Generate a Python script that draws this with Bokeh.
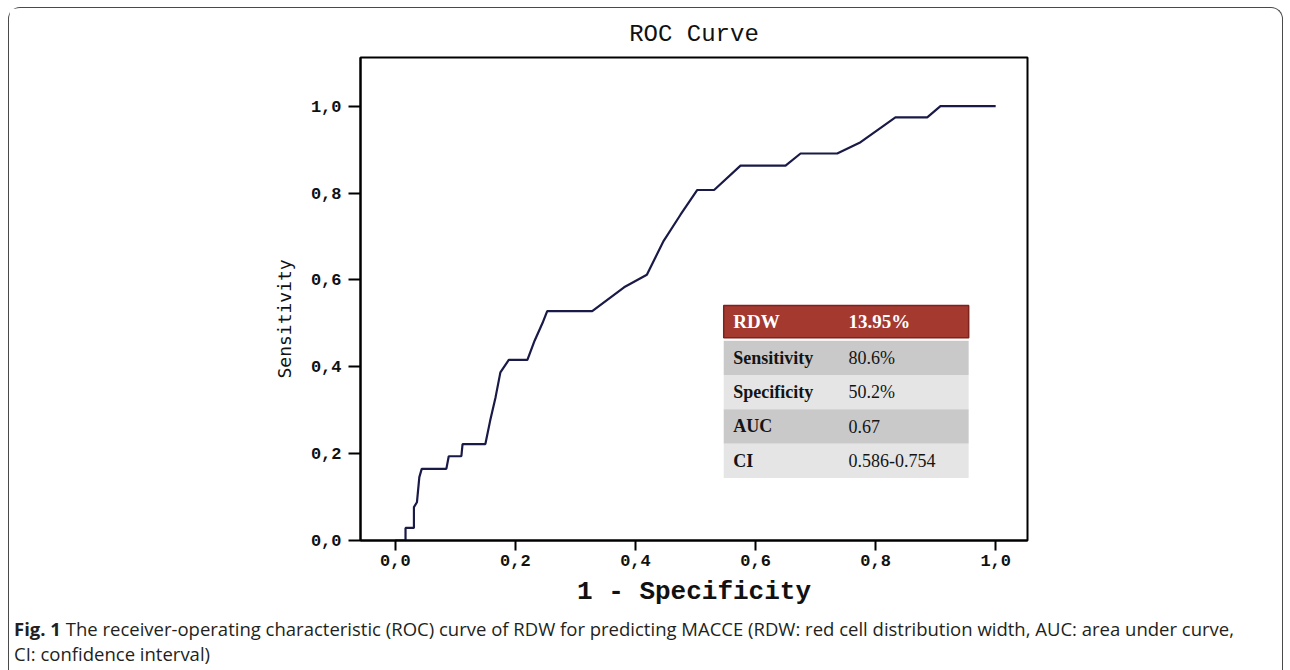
from bokeh.plotting import figure
from bokeh.models import Range1d, FixedTicker, CustomJSTickFormatter, Div, Title
from bokeh.layouts import column
from bokeh.embed import file_html
from bokeh.resources import INLINE
from bokeh.core.properties import value

# ---------------- data ----------------
fpr = [0.0, 0.017, 0.017, 0.031, 0.031, 0.036, 0.040, 0.044, 0.085, 0.089, 0.110, 0.112,
       0.150, 0.158, 0.167, 0.175, 0.189, 0.220, 0.232, 0.245, 0.253, 0.328, 0.381, 0.419,
       0.447, 0.475, 0.503, 0.531, 0.575, 0.650, 0.675, 0.736, 0.775, 0.833, 0.886, 0.908, 1.0]
tpr = [0.0, 0.0, 0.029, 0.029, 0.077, 0.088, 0.146, 0.165, 0.165, 0.194, 0.194, 0.222,
       0.222, 0.276, 0.330, 0.387, 0.416, 0.416, 0.460, 0.500, 0.528, 0.528, 0.583, 0.612,
       0.690, 0.750, 0.807, 0.807, 0.863, 0.863, 0.891, 0.891, 0.917, 0.974, 0.974, 1.0, 1.0]

tick_values = [0.0, 0.2, 0.4, 0.6, 0.8, 1.0]
tick_labels = ["0,0", "0,2", "0,4", "0,6", "0,8", "1,0"]

table_metrics = ["RDW", "Sensitivity", "Specificity", "AUC", "CI"]
table_values = ["13.95%", "80.6%", "50.2%", "0.67", "0.586-0.754"]

title_text = "ROC Curve"
x_label = "1 - Specificity"
y_label = "Sensitivity"
caption_bold = "Fig. 1"
caption_line1 = "The receiver-operating characteristic (ROC) curve of RDW for predicting MACCE (RDW: red cell distribution width, AUC: area under curve,"
caption_line2 = "CI: confidence interval)"

# ---------------- figure ----------------
MONO = "Liberation Mono"
p = figure(width=1263, height=603, output_backend="svg", toolbar_location=None,
           x_range=Range1d(-0.058, 1.053), y_range=Range1d(0, 1.112),
           min_border_left=351, min_border_right=245, min_border_top=49, min_border_bottom=71,
           background_fill_color="white", border_fill_color="white")

p.title.text = title_text
p.title.align = "center"
p.title.text_font = MONO
p.title.text_font_size = "24px"
p.title.text_font_style = "normal"
p.title.text_color = "#111111"
p.title.standoff = 20

p.xgrid.visible = False
p.ygrid.visible = False
p.outline_line_color = "black"
p.outline_line_width = 2
p.outline_line_alpha = 1.0

fmt = CustomJSTickFormatter(args=dict(vals=tick_values, labs=tick_labels), code="""
const i = vals.findIndex(v => Math.abs(v - tick) < 1e-9);
return i >= 0 ? labs[i] : '';
""")

for ax in (p.xaxis[0], p.yaxis[0]):
    ax.ticker = FixedTicker(ticks=tick_values)
    ax.formatter = fmt
    ax.axis_line_width = 2
    ax.axis_line_color = "black"
    ax.major_tick_line_width = 2
    ax.major_tick_line_color = "black"
    ax.major_tick_in = 0
    ax.minor_tick_line_color = None
    ax.major_label_text_font = MONO
    ax.major_label_text_font_size = "17px"
    ax.major_label_text_font_style = "bold"
    ax.major_label_text_color = "#111111"

xa = p.xaxis[0]
xa.major_tick_out = 10
xa.major_label_standoff = 4
xa.axis_label = x_label
xa.axis_label_text_font = MONO
xa.axis_label_text_font_size = "26px"
xa.axis_label_text_font_style = "bold"
xa.axis_label_text_color = "#111111"
xa.axis_label_standoff = 8

ya = p.yaxis[0]
ya.major_tick_out = 12
ya.major_label_standoff = 7

# y-axis title: a side title, set a little below the frame centre as in the original
p.add_layout(Title(text=y_label, align="left", offset=162, standoff=26,
                   text_font="DejaVu Sans Mono", text_font_size="18px",
                   text_font_style="normal", text_color="#111111"), "left")

# ROC curve
p.line(fpr, tpr, line_color="#1a1a48", line_width=2.2)

# ---------------- table (inset) ----------------
t_left, t_right = 0.547, 0.955
t_top = 0.541
head_h = 0.074
gap = 0.007
row_h = 0.079
n = len(table_metrics)
tops, bottoms, fills, lines = [], [], [], []
for i in range(n):
    if i == 0:
        top = t_top
        bot = t_top - head_h
        fills.append("#a3392f")
        lines.append("#7d231c")
    else:
        top = t_top - head_h - gap - (i - 1) * row_h
        bot = top - row_h
        fills.append("#c9c9c9" if i % 2 == 1 else "#e5e5e5")
        lines.append(None)
    tops.append(top)
    bottoms.append(bot)
p.quad(left=[t_left] * n, right=[t_right] * n, top=tops, bottom=bottoms,
       fill_color=fills, line_color=lines, line_width=1.5)

mids = [(a + b) / 2 for a, b in zip(tops, bottoms)]
col1_x = 0.563
col2_x = 0.755
p.text(x=[col1_x, col2_x], y=[mids[0], mids[0]], text=[table_metrics[0], table_values[0]],
       text_font=value("Liberation Serif"), text_font_size=value("19px"),
       text_font_style="bold", text_color="white", text_baseline="middle", text_align="left")
p.text(x=[col1_x] * (n - 1), y=mids[1:], text=table_metrics[1:],
       text_font=value("Liberation Serif"), text_font_size=value("18px"),
       text_font_style="bold", text_color="#141414", text_baseline="middle", text_align="left")
p.text(x=[col2_x] * (n - 1), y=mids[1:], text=table_values[1:],
       text_font=value("Liberation Serif"), text_font_size=value("18px"),
       text_font_style="normal", text_color="#141414", text_baseline="middle", text_align="left")

# ---------------- caption ----------------
cap = Div(width=1263, height=52, text=(
    f'<div style="padding:1px 0 0 0; line-height:24.5px; font-family:\'Open Sans\'; '
    f'font-size:18.5px; color:#231f20; white-space:nowrap;">'
    f'<b>{caption_bold}</b> {caption_line1}<br>{caption_line2}</div>'))

layout = column(p, cap, styles={
    "margin-left": "8px",
    "margin-top": "7px",
    "border-top": "1.5px solid #4a4a4a",
    "border-left": "1.5px solid #4a4a4a",
    "border-right": "1.5px solid #4a4a4a",
    "border-top-left-radius": "12px",
    "border-top-right-radius": "12px",
    "background": "white",
})

open("out.html", "w").write(file_html(layout, INLINE))
